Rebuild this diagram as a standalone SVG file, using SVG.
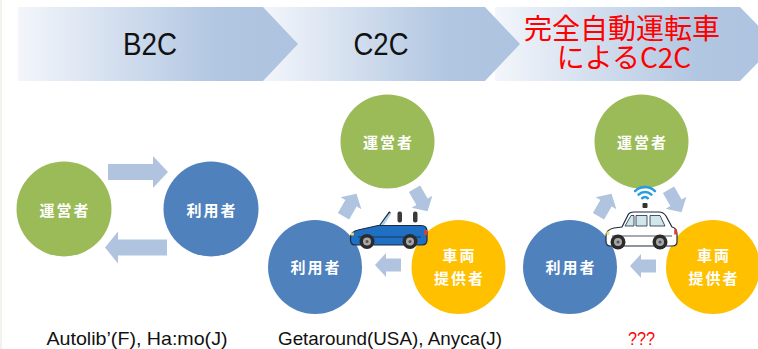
<svg xmlns="http://www.w3.org/2000/svg" xmlns:xlink="http://www.w3.org/1999/xlink" width="758" height="349" viewBox="0 0 758 349">
  <defs>
    <linearGradient id="chev" x1="0" y1="0" x2="1" y2="0">
      <stop offset="0" stop-color="#f3f6fb"/>
      <stop offset="0.72" stop-color="#b1c6e1"/>
      <stop offset="1" stop-color="#aec3df"/>
    </linearGradient>
    <!-- small block arrow pointing right, centred on the origin -->
    <path id="sarrow" d="M-13,-6.5 L2,-6.5 L2,-12 L13,0 L2,12 L2,6.5 L-13,6.5 Z"/>
  </defs>
  <style>
    .hdr { font-family: "Liberation Sans", Arial, sans-serif; font-size: 31px; fill: #111; text-anchor: middle; }
    .jp { font-family: "Noto Sans CJK JP", sans-serif; font-size: 28px; fill: #ff0000; text-anchor: middle; }
    .node { font-family: "Noto Sans CJK JP", sans-serif; font-size: 15px; font-weight: bold; fill: #fff; text-anchor: middle; letter-spacing: 2px; }
    .cap { font-family: "Liberation Sans", Arial, sans-serif; font-size: 19px; fill: #111; text-anchor: middle; }
    .arrow { fill: #b0c3df; }
    .green { fill: #9bbb59; }
    .blue { fill: #4f81bd; }
    .orange { fill: #ffc000; }
    .line { stroke: #1c2a40; stroke-width: 1.2; }
    .thin { stroke: #1c2a40; stroke-width: 0.8; }
    .glass { fill: #cfe7ea; }
  </style>

  <rect x="0" y="0" width="758" height="349" fill="#ffffff"/>
  <rect x="0" y="0" width="2" height="349" fill="#f1f2ec"/>

  <!-- header chevrons (drawn right to left so each point overlaps the next) -->
  <g id="chevron-3">
    <polygon points="495,7 740,7 776,44 740,81 495,81" fill="url(#chev)"/>
    <text class="jp" x="622" y="39">完全自動運転車</text>
    <text class="jp" x="624" y="67.5">によるC2C</text>
  </g>
  <g id="chevron-2">
    <polygon points="263,7 485,7 520,44 485,81 263,81" fill="url(#chev)"/>
    <text class="hdr" x="381" y="55" textLength="55" lengthAdjust="spacingAndGlyphs">C2C</text>
  </g>
  <g id="chevron-1">
    <polygon points="18,7 263,7 298,44 263,81 18,81" fill="url(#chev)"/>
    <text class="hdr" x="150" y="55" textLength="54" lengthAdjust="spacingAndGlyphs">B2C</text>
  </g>

  <!-- connectors -->
  <g id="connectors" class="arrow">
    <path d="M108,164 L153,164 L153,156 L168,172 L153,188 L153,180 L108,180 Z"/>
    <path d="M167,239.5 L118,239.5 L118,231.5 L105,247.5 L118,263.5 L118,255.5 L167,255.5 Z"/>
    <use xlink:href="#sarrow" transform="translate(350,205) rotate(-60)"/>
    <use xlink:href="#sarrow" transform="translate(421,200) rotate(60)"/>
    <use xlink:href="#sarrow" transform="translate(388,265) rotate(180)"/>
    <use xlink:href="#sarrow" transform="translate(605,205) rotate(-60)"/>
    <use xlink:href="#sarrow" transform="translate(675,201) rotate(60)"/>
    <use xlink:href="#sarrow" transform="translate(643,266) rotate(180)"/>
  </g>

  <!-- B2C -->
  <g id="b2c-operator">
    <circle class="green" cx="64" cy="209" r="47.5"/>
    <text class="node" x="65" y="215.5">運営者</text>
  </g>
  <g id="b2c-user">
    <circle class="blue" cx="211" cy="209" r="47.5"/>
    <text class="node" x="212" y="215.5">利用者</text>
  </g>

  <!-- C2C -->
  <g id="c2c-operator">
    <circle class="green" cx="387.5" cy="141.5" r="47"/>
    <text class="node" x="388.5" y="147.5">運営者</text>
  </g>
  <g id="c2c-user">
    <circle class="blue" cx="315" cy="267" r="47"/>
    <text class="node" x="316" y="272.5">利用者</text>
  </g>
  <g id="c2c-provider">
    <circle class="orange" cx="458.5" cy="267" r="47"/>
    <text class="node" x="459.5" y="260.5">車両</text>
    <text class="node" x="459.5" y="283.5">提供者</text>
  </g>

  <!-- blue convertible -->
  <g id="c2c-car">
    <path d="M380,226 L390,212" stroke="#1c2a40" stroke-width="2.2" fill="none"/>
    <polygon points="380.5,225 389.5,213 391,214 384,225" fill="#a9d0ee"/>
    <rect x="397.5" y="211.5" width="4.5" height="11" rx="2" fill="#3a3a3a"/>
    <rect x="413" y="211.5" width="4.5" height="11" rx="2" fill="#3a3a3a"/>
    <path class="line" fill="#1f6fc2" d="M350.5,238 C350.5,233 353,231 358,230 L378,225.5 L421,225.5 C425,225.5 427,227.5 427,231 L427,240 C427,243 425,245 422,245 L355,245 C352,245 350.5,243 350.5,240 Z"/>
    <path class="thin" fill="none" d="M358,237 L421,237"/>
    <rect x="350.8" y="232.5" width="3" height="3" fill="#f3d36b"/>
    <rect x="424.2" y="230" width="2.8" height="5" fill="#e53935"/>
    <circle cx="367" cy="241.5" r="7.5" fill="#2b2b2b"/>
    <circle cx="367" cy="241.5" r="4" fill="#a7a7a7"/>
    <circle cx="367" cy="241.5" r="1.5" fill="#555"/>
    <circle cx="410" cy="241.5" r="7.5" fill="#2b2b2b"/>
    <circle cx="410" cy="241.5" r="4" fill="#a7a7a7"/>
    <circle cx="410" cy="241.5" r="1.5" fill="#555"/>
  </g>

  <!-- fully autonomous C2C -->
  <g id="auto-operator">
    <circle class="green" cx="641.5" cy="141.5" r="47"/>
    <text class="node" x="642.5" y="147.5">運営者</text>
  </g>
  <g id="auto-user">
    <circle class="blue" cx="570" cy="267" r="47"/>
    <text class="node" x="571" y="272.5">利用者</text>
  </g>
  <g id="auto-provider">
    <circle class="orange" cx="713" cy="267" r="47"/>
    <text class="node" x="714" y="260.5">車両</text>
    <text class="node" x="714" y="283.5">提供者</text>
  </g>

  <!-- white self-driving car with wireless signal -->
  <g id="auto-car">
    <g fill="none" stroke="#2a9de0" stroke-width="2.6" stroke-linecap="round">
      <path d="M642.2,198.2 A4,4 0 0 1 647.8,198.2"/>
      <path d="M638.6,194.6 A9,9 0 0 1 651.4,194.6"/>
      <path d="M635.1,191.1 A14,14 0 0 1 654.9,191.1"/>
    </g>
    <rect x="642.5" y="203" width="5" height="5" rx="1" fill="#333"/>
    <path class="line" fill="#ffffff" d="M606,236 C606,231 609,229 614,228 L622,227 L628,215 C629,213 631,212 634,212 L659,212 C662,212 664,213 666,216 L672,227 C676,228 677,230 677,234 L677,242 C677,245 675,246 672,246 L610,246 C607,246 606,244 606,241 Z"/>
    <polygon class="glass thin" points="625,226 631,215.5 634,215.5 634,226"/>
    <polygon class="glass thin" points="636,226 636,215.5 647,215.5 647,226"/>
    <polygon class="glass thin" points="650,226 650,215.5 660,215.5 665,226"/>
    <path class="thin" fill="none" d="M612,236 L672,236"/>
    <rect x="606.3" y="231.5" width="3" height="3" fill="#f3d36b"/>
    <rect x="674.2" y="229.5" width="2.8" height="5" fill="#e53935"/>
    <circle cx="618" cy="242" r="7.5" fill="#2b2b2b"/>
    <circle cx="618" cy="242" r="4" fill="#a7a7a7"/>
    <circle cx="618" cy="242" r="1.5" fill="#555"/>
    <circle cx="660" cy="242" r="7.5" fill="#2b2b2b"/>
    <circle cx="660" cy="242" r="4" fill="#a7a7a7"/>
    <circle cx="660" cy="242" r="1.5" fill="#555"/>
  </g>

  <!-- captions -->
  <g id="captions">
    <text class="cap" x="137" y="345" textLength="181" lengthAdjust="spacingAndGlyphs">Autolib’(F), Ha:mo(J)</text>
    <text class="cap" x="390" y="345" textLength="224" lengthAdjust="spacingAndGlyphs">Getaround(USA), Anyca(J)</text>
    <text class="cap" x="641.5" y="345" style="fill:#ff0000" textLength="27" lengthAdjust="spacingAndGlyphs">???</text>
  </g>
</svg>
